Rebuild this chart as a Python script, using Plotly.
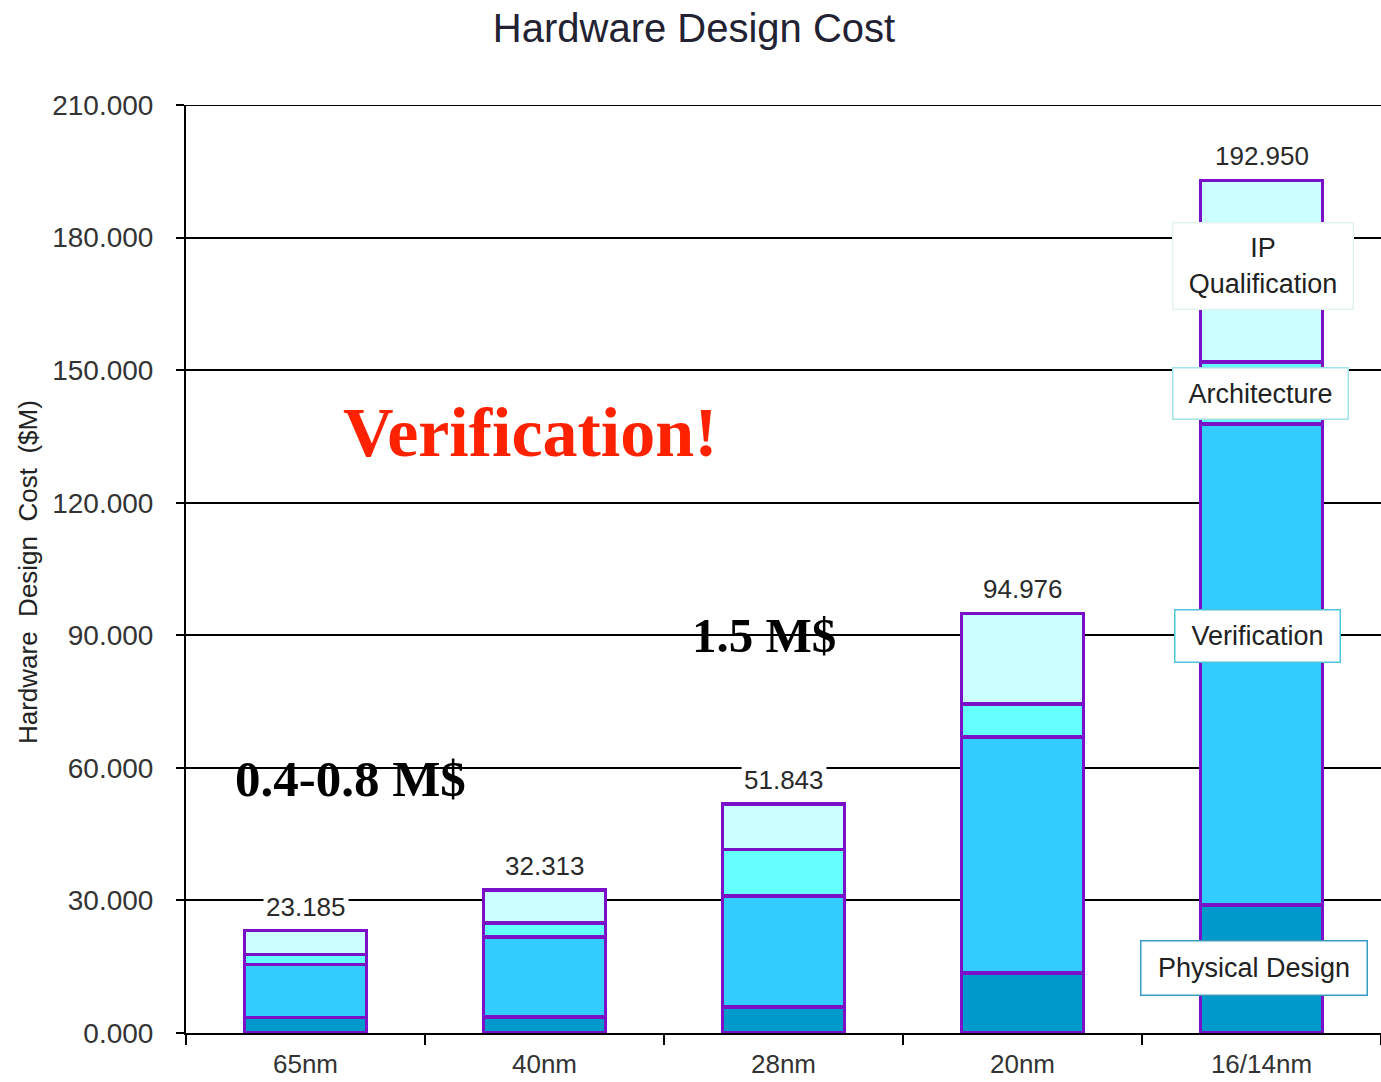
import plotly.graph_objects as go

# Hardware design cost by process node, split by design phase ($M)
nodes = ["65nm", "40nm", "28nm", "20nm", "16/14nm"]
physical_design = [3.5, 3.6, 5.9, 13.6, 29.0]
verification = [12.0, 18.1, 25.1, 53.4, 108.8]
architecture = [2.3, 3.2, 10.5, 7.5, 14.0]
ip_qualification = [5.385, 7.413, 10.343, 20.476, 41.150]
totals = [23.185, 32.313, 51.843, 94.976, 192.950]

y_tickvals = [0, 30, 60, 90, 120, 150, 180, 210]
y_ticktext = ["0.000", "30.000", "60.000", "90.000", "120.000",
              "150.000", "180.000", "210.000"]

phase_names = ["Physical Design", "Verification", "Architecture", "IP Qualification"]
phase_values = [physical_design, verification, architecture, ip_qualification]
phase_colors = ["#0099CC", "#33CCFF", "#66FFFF", "#CCFFFF"]
outline = "#7A10C8"

fig = go.Figure()
for name, vals, col in zip(phase_names, phase_values, phase_colors):
    fig.add_trace(go.Bar(
        x=nodes, y=vals, name=name,
        marker=dict(color=col, line=dict(color=outline, width=3.5)),
    ))

sans = "Liberation Sans, Arial, sans-serif"
serif = "Liberation Serif, Times New Roman, serif"

annotations = []
# total labels above each stack
for node, tot in zip(nodes, totals):
    annotations.append(dict(
        x=node, y=tot, xref="x", yref="y", text=f"{tot:.3f}",
        showarrow=False, yanchor="bottom", yshift=6,
        font=dict(family=sans, size=26, color="#2a2a2a"),
        bgcolor="white", borderpad=2,
    ))

# phase labels boxed on the tallest stack
phase_boxes = [
    ("IP<br>Qualification", 4.008, 173.6, 179, 85, "#E4F2F2"),
    ("Architecture", 3.996, 144.8, 174, 50, "#9FE3E8"),
    ("Verification", 3.983, 89.8, 164, 51, "#4CC6D6"),
    ("Physical Design", 3.967, 14.7, 225, 53, "#3A9CC0"),
]
for text, bx, by, bw, bh, bc in phase_boxes:
    annotations.append(dict(
        x=bx, y=by, xref="x", yref="y", text=text, showarrow=False,
        xanchor="center", yanchor="middle", width=bw, height=bh,
        font=dict(family=sans, size=27, color="#222222"),
        bgcolor="white", bordercolor=bc, borderwidth=1.5, borderpad=0,
    ))

# callouts
callouts = [
    ("Verification!", 0.943, 135.8, 70, "#FF2200"),
    ("1.5 M$", 1.918, 90.0, 49, "black"),
    ("0.4-0.8 M$", 0.19, 57.5, 51, "black"),
    (">10 M$", 4.077, 217.5, 49, "black"),
]
for text, cx, cy, size, col in callouts:
    annotations.append(dict(
        x=cx, y=cy, xref="x", yref="y", text=f"<b>{text}</b>", showarrow=False,
        xanchor="center", yanchor="middle",
        font=dict(family=serif, size=size, color=col),
    ))

# y-axis title
annotations.append(dict(
    x=-0.132, y=0.497, xref="paper", yref="paper",
    text="Hardware\u00a0 Design\u00a0 Cost\u00a0 ($M)", textangle=-90,
    showarrow=False, xanchor="center", yanchor="middle",
    font=dict(family=sans, size=26, color="#222222"),
))

fig.update_layout(
    width=1381, height=1082,
    margin=dict(l=186, r=0, t=105, b=49),
    paper_bgcolor="white", plot_bgcolor="white",
    barmode="stack", bargap=0.49, showlegend=False,
    title=dict(text="Hardware Design Cost", x=694 / 1381, xanchor="center",
               xref="container", y=1 - 28 / 1082, yref="container", yanchor="middle",
               font=dict(family=sans, size=40, color="#222233")),
    annotations=annotations,
    # top border of the plot area, level with the 210 tick
    shapes=[dict(type="line", xref="paper", yref="y", x0=0, x1=1,
                 y0=210, y1=210, line=dict(color="black", width=2), layer="below")],
)
fig.update_xaxes(
    type="category", range=[-0.5, 4.5], tickson="boundaries",
    ticks="outside", ticklen=10, tickwidth=2, tickcolor="black",
    showline=True, linecolor="black", linewidth=2, showgrid=False,
    tickfont=dict(family=sans, size=26, color="#333333"),
    ticklabelstandoff=7, automargin=False,
)
fig.update_yaxes(
    range=[0, 210], tickvals=y_tickvals, ticktext=y_ticktext,
    ticks="outside", ticklen=8, tickwidth=2, tickcolor="black",
    showline=True, linecolor="black", linewidth=2,
    showgrid=True, gridcolor="black", gridwidth=2, zeroline=False,
    tickfont=dict(family=sans, size=28, color="#333333"),
    ticklabelstandoff=17, automargin=False,
)

fig.write_html("out.html")
